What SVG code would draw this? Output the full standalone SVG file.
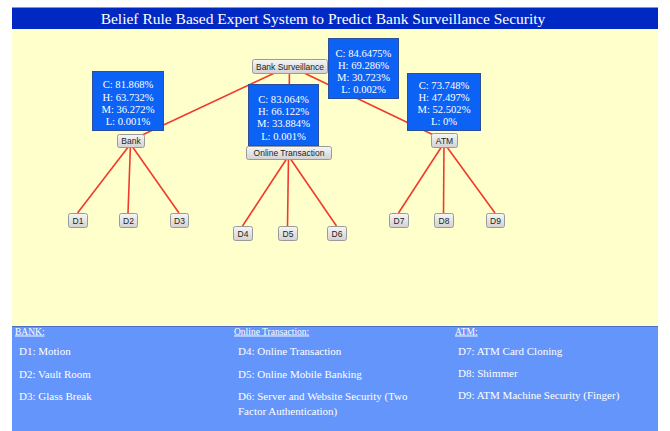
<svg xmlns="http://www.w3.org/2000/svg" width="670" height="431" viewBox="0 0 670 431">
  <defs>
    <linearGradient id="btnGrad" x1="0" y1="0" x2="0" y2="1">
      <stop offset="0" stop-color="#f6f6f6"/>
      <stop offset="1" stop-color="#d2d2d2"/>
    </linearGradient>
    <style>
      .btn rect { fill: url(#btnGrad); stroke: #9a9a9a; stroke-width: 1; }
      .btn text { font-family: "Liberation Sans", Arial, sans-serif; font-size: 8.5px; fill: #222; text-anchor: middle; }
      .val rect { fill: #0d62f6; stroke: #2c4f9c; stroke-width: 1; }
      .val text { font-family: "Liberation Serif", "Times New Roman", serif; font-size: 10.6px; fill: #ffffff; text-anchor: middle; }
      .edge { stroke: #f03a2e; stroke-width: 1.6; fill: none; }
      .legend { font-family: "Liberation Serif", "Times New Roman", serif; fill: #ffffff; }
      .legend .head { font-size: 9.5px; text-decoration: underline; }
      .legend .item { font-size: 11px; }
    </style>
  </defs>

  <!-- page -->
  <rect x="0" y="0" width="670" height="431" fill="#ffffff"/>
  <rect x="12" y="29" width="646" height="297" fill="#ffffcc"/>

  <!-- title bar -->
  <g id="title">
    <rect x="12" y="7" width="646" height="22" fill="#0029c4"/>
    <line x1="12" y1="7.5" x2="658" y2="7.5" stroke="#7c95e6" stroke-width="1"/>
    <text x="323" y="23.5" font-family="Liberation Serif, 'Times New Roman', serif" font-size="15.5" fill="#ffffff" text-anchor="middle">Belief Rule Based Expert System to Predict Bank Surveillance Security</text>
  </g>

  <!-- connectors -->
  <g id="connectors">
    <line class="edge" x1="289.5" y1="66" x2="130.5" y2="140.5"/>
    <line class="edge" x1="289.5" y1="66" x2="288.5" y2="152.5"/>
    <line class="edge" x1="289.5" y1="66" x2="444" y2="140"/>
    <line class="edge" x1="130.5" y1="144" x2="77.5" y2="213"/>
    <line class="edge" x1="130.5" y1="144" x2="128" y2="213"/>
    <line class="edge" x1="130.5" y1="144" x2="179" y2="213"/>
    <line class="edge" x1="288.5" y1="156" x2="242.5" y2="226"/>
    <line class="edge" x1="288.5" y1="156" x2="287.5" y2="226"/>
    <line class="edge" x1="288.5" y1="156" x2="336.5" y2="226"/>
    <line class="edge" x1="444" y1="143" x2="398.5" y2="213"/>
    <line class="edge" x1="444" y1="143" x2="443.5" y2="213"/>
    <line class="edge" x1="444" y1="143" x2="495" y2="213"/>
  </g>

  <!-- belief value boxes -->
  <g id="val-root" class="val">
    <rect x="328.5" y="38.5" width="70" height="60"/>
    <text x="363.5" y="56.5">C: 84.6475%</text>
    <text x="363.5" y="68.5">H: 69.286%</text>
    <text x="363.5" y="80.5">M: 30.723%</text>
    <text x="363.5" y="92.5">L: 0.002%</text>
  </g>
  <g id="val-bank" class="val">
    <rect x="92.5" y="71.5" width="71" height="59"/>
    <text x="128" y="88">C: 81.868%</text>
    <text x="128" y="100.5">H: 63.732%</text>
    <text x="128" y="113">M: 36.272%</text>
    <text x="128" y="125">L: 0.001%</text>
  </g>
  <g id="val-online" class="val">
    <rect x="248.5" y="84.5" width="70" height="61"/>
    <text x="283.5" y="103">C: 83.064%</text>
    <text x="283.5" y="115">H: 66.122%</text>
    <text x="283.5" y="127">M: 33.884%</text>
    <text x="283.5" y="139.5">L: 0.001%</text>
  </g>
  <g id="val-atm" class="val">
    <rect x="407.5" y="73.5" width="73" height="57"/>
    <text x="444" y="89">C: 73.748%</text>
    <text x="444" y="101">H: 47.497%</text>
    <text x="444" y="112.5">M: 52.502%</text>
    <text x="444" y="125">L: 0%</text>
  </g>

  <!-- nodes -->
  <g id="node-root" class="btn">
    <rect x="252.5" y="59.5" width="75" height="14" rx="2"/>
    <text x="290" y="69.5">Bank Surveillance</text>
  </g>
  <g id="node-bank" class="btn">
    <rect x="117.5" y="134.5" width="27" height="13" rx="2"/>
    <text x="131" y="144">Bank</text>
  </g>
  <g id="node-online" class="btn">
    <rect x="246.5" y="146.5" width="85" height="13" rx="2"/>
    <text x="289" y="156">Online Transaction</text>
  </g>
  <g id="node-atm" class="btn">
    <rect x="431.5" y="133.5" width="26" height="14" rx="2"/>
    <text x="444.5" y="143.5">ATM</text>
  </g>

  <g id="node-d1" class="btn"><rect x="68.5" y="213.5" width="19" height="14" rx="2"/><text x="78" y="223.5">D1</text></g>
  <g id="node-d2" class="btn"><rect x="119.5" y="213.5" width="18" height="14" rx="2"/><text x="128.5" y="223.5">D2</text></g>
  <g id="node-d3" class="btn"><rect x="170.5" y="213.5" width="18" height="14" rx="2"/><text x="179.5" y="223.5">D3</text></g>
  <g id="node-d4" class="btn"><rect x="233.5" y="226.5" width="19" height="14" rx="2"/><text x="243" y="236.5">D4</text></g>
  <g id="node-d5" class="btn"><rect x="278.5" y="226.5" width="19" height="14" rx="2"/><text x="288" y="236.5">D5</text></g>
  <g id="node-d6" class="btn"><rect x="327.5" y="226.5" width="19" height="14" rx="2"/><text x="337" y="236.5">D6</text></g>
  <g id="node-d7" class="btn"><rect x="389.5" y="213.5" width="19" height="14" rx="2"/><text x="399" y="223.5">D7</text></g>
  <g id="node-d8" class="btn"><rect x="434.5" y="213.5" width="19" height="14" rx="2"/><text x="444" y="223.5">D8</text></g>
  <g id="node-d9" class="btn"><rect x="486.5" y="213.5" width="18" height="14" rx="2"/><text x="495.5" y="223.5">D9</text></g>

  <!-- legend panel -->
  <g id="legend" class="legend">
    <rect x="12" y="326" width="646" height="105" fill="#6495fb"/>
    <line x1="12" y1="326.5" x2="658" y2="326.5" stroke="#4a6fc4" stroke-width="1"/>
    <text class="head" x="15" y="334.5">BANK:</text>
    <text class="item" x="19" y="355">D1: Motion</text>
    <text class="item" x="19" y="377.5">D2: Vault Room</text>
    <text class="item" x="19" y="400">D3: Glass Break</text>

    <text class="head" x="234" y="334.5">Online Transaction:</text>
    <text class="item" x="238" y="355">D4: Online Transaction</text>
    <text class="item" x="238" y="377.5">D5: Online Mobile Banking</text>
    <text class="item" x="238" y="400">D6: Server and Website Security (Two</text>
    <text class="item" x="238" y="415">Factor Authentication)</text>

    <text class="head" x="455" y="334.5">ATM:</text>
    <text class="item" x="458" y="355">D7: ATM Card Cloning</text>
    <text class="item" x="458" y="377">D8: Shimmer</text>
    <text class="item" x="458" y="399">D9: ATM Machine Security (Finger)</text>
  </g>
</svg>
